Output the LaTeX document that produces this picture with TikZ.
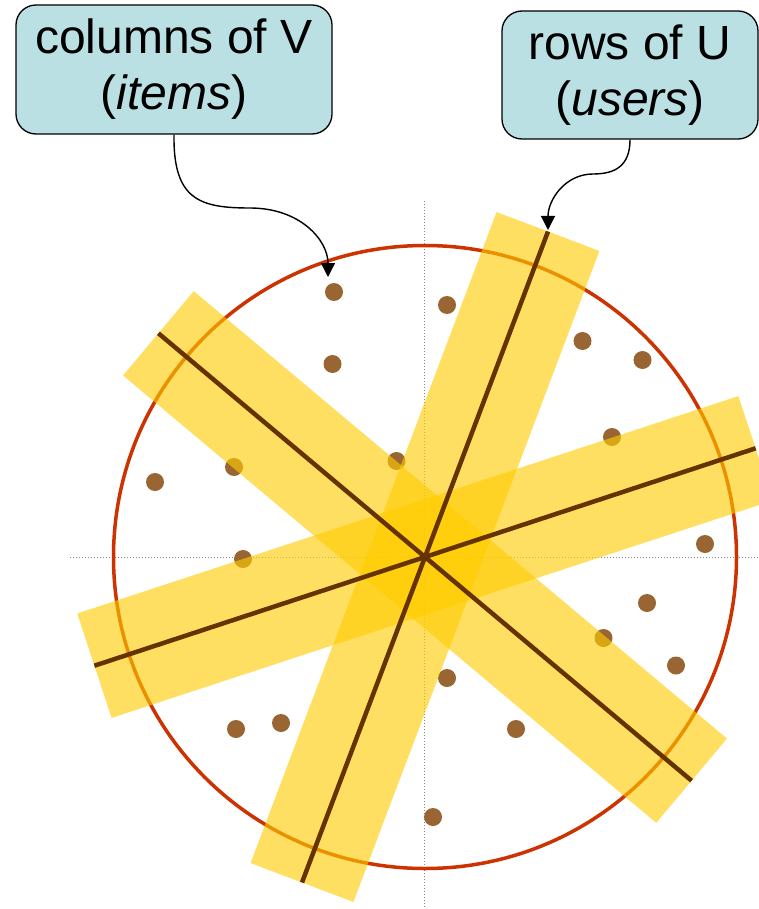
\documentclass[tikz,border=0pt]{standalone}
\usepackage{fontspec}
\setmainfont{Liberation Sans}
\usetikzlibrary{arrows.meta}
\definecolor{ringred}{HTML}{CC3300}
\definecolor{axisbrown}{HTML}{663300}
\definecolor{dotbrown}{HTML}{996633}
\definecolor{bandyellow}{HTML}{FFCC00}
\definecolor{calloutfill}{HTML}{BAE0E3}
\definecolor{gridgray}{HTML}{888888}
\tikzset{
  guide/.style={gridgray, line width=1pt, dotted},
  ring/.style={ringred, line width=3.5pt},
  band/.style={bandyellow, line width=110pt, opacity=0.62, line cap=butt},
  axisline/.style={axisbrown, line width=4.5pt},
  pt/.style={circle, fill=dotbrown, inner sep=0pt, minimum size=18pt},
  callout/.style={draw=black, line width=1.3pt, fill=calloutfill, rounded corners=20pt,
    align=center, inner sep=0pt, font=\fontsize{48}{56}\selectfont},
  pointer/.style={black, line width=1.4pt, -{Triangle[length=14pt,width=14pt]}}
}
\begin{document}
\begin{tikzpicture}[x=1pt,y=-1pt]
\useasboundingbox (0,0) rectangle (759,909);
% guides
\coordinate (c) at (425,557);
\coordinate (gl) at (70,557);
\coordinate (gr) at (759,557);
\coordinate (gt) at (424,201);
\coordinate (gb) at (424,909);
\draw[guide] (gl) -- (gr);
\draw[guide] (gt) -- (gb);
% circle
\draw[ring] (c) circle[radius=311.5];
% points
\foreach \n/\x/\y in {1/334/292, 2/447/305, 3/582.5/341, 4/642.5/360, 5/332.5/364,
  6/612/437, 7/396.5/461, 8/234/467, 9/155/482, 10/705/544, 11/243/559,
  12/647/603, 13/603.5/638, 14/676/665.5, 15/447/678, 16/281/723, 17/236/729,
  18/516/729, 19/433/817}
  \node[pt] (d\n) at (\x,\y) {};
% axis end points
\coordinate (a1) at (548,231.5);
\coordinate (b1) at (302,882.5);
\coordinate (a2) at (158.4,333.3);
\coordinate (b2) at (691.6,780.7);
\coordinate (a3) at (755.6,448.3);
\coordinate (b3) at (94.4,665.7);
% bands
\draw[band] (a1) -- (b1);
\draw[band] (a2) -- (b2);
\draw[band] (a3) -- (b3);
% lines
\draw[axisline] (a1) -- (b1);
\draw[axisline] (a2) -- (b2);
\draw[axisline] (a3) -- (b3);
% callouts
\node[callout, minimum width=316pt, minimum height=129pt] (boxV) at (174,69.5)
  {columns of V\\(\textit{items})};
\node[callout, minimum width=256pt, minimum height=128pt] (boxU) at (630,75)
  {rows of U\\(\textit{users})};
\coordinate (tipV) at (328,277);
\coordinate (tipU) at (548,230);
\draw[pointer] (boxV.south) .. controls (173,200) and (200,208) .. (250,208)
  .. controls (300,208) and (328,240) .. (tipV);
\draw[pointer] (boxU.south) .. controls (630,166) and (615,174) .. (593,174)
  .. controls (565,174) and (548,200) .. (tipU);
\end{tikzpicture}
\end{document}
